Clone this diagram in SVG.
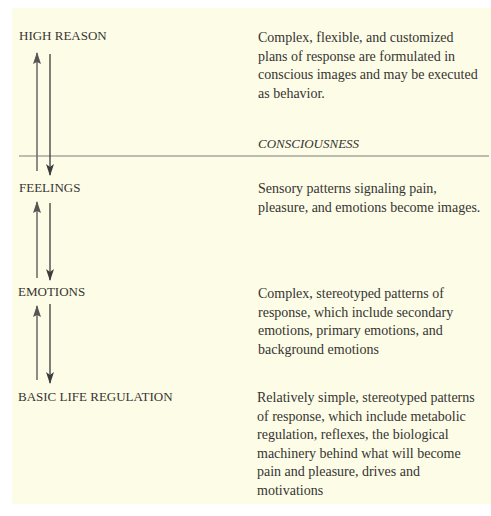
<svg xmlns="http://www.w3.org/2000/svg" width="491" height="516" viewBox="0 0 491 516">
  <style>
    .label { font-family: "Liberation Serif", "Times New Roman", serif; font-size: 13px; fill: #353533; }
    .desc { font-family: "Liberation Serif", "Times New Roman", serif; font-size: 14px; fill: #353533; }
    .italic { font-style: italic; }
    .up { stroke: #707070; stroke-width: 1.6; fill: none; }
    .down { stroke: #3c3c3a; stroke-width: 1.3; fill: none; }
    .rule { stroke: #a9a9a2; stroke-width: 1.5; }
  </style>
  <defs>
    <marker id="headUp" viewBox="0 0 12 8" refX="11" refY="4" markerWidth="12" markerHeight="8" markerUnits="userSpaceOnUse" orient="auto">
      <path d="M0,0 L12,4 L0,8 L2,4 Z" fill="#555553"/>
    </marker>
    <marker id="headDown" viewBox="0 0 12 8" refX="11" refY="4" markerWidth="12" markerHeight="8" markerUnits="userSpaceOnUse" orient="auto">
      <path d="M0,0 L12,4 L0,8 L3,4 Z" fill="#3c3c3a"/>
    </marker>
  </defs>

  <!-- page -->
  <rect x="0" y="0" width="491" height="516" fill="#ffffff"/>
  <rect x="12" y="8" width="479" height="496" fill="#fdfce6"/>

  <!-- consciousness threshold -->
  <line class="rule" x1="19" y1="156" x2="489" y2="156"/>
  <text class="label italic" x="258" y="148">CONSCIOUSNESS</text>

  <g id="high-reason">
    <text class="label" x="19" y="40">HIGH REASON</text>
    <text class="desc" x="258" y="42">Complex, flexible, and customized</text>
    <text class="desc" x="258" y="60.5">plans of response are formulated in</text>
    <text class="desc" x="258" y="79">conscious images and may be executed</text>
    <text class="desc" x="258" y="97.5">as behavior.</text>
  </g>

  <g id="feelings">
    <text class="label" x="19" y="192">FEELINGS</text>
    <text class="desc" x="258" y="193">Sensory patterns signaling pain,</text>
    <text class="desc" x="258" y="211.5">pleasure, and emotions become images.</text>
  </g>

  <g id="emotions">
    <text class="label" x="18" y="296">EMOTIONS</text>
    <text class="desc" x="258" y="298">Complex, stereotyped patterns of</text>
    <text class="desc" x="258" y="316.5">response, which include secondary</text>
    <text class="desc" x="258" y="335">emotions, primary emotions, and</text>
    <text class="desc" x="258" y="353.5">background emotions</text>
  </g>

  <g id="basic-life-regulation">
    <text class="label" x="18" y="401">BASIC LIFE REGULATION</text>
    <text class="desc" x="257" y="402">Relatively simple, stereotyped patterns</text>
    <text class="desc" x="257" y="420.5">of response, which include metabolic</text>
    <text class="desc" x="257" y="439">regulation, reflexes, the biological</text>
    <text class="desc" x="257" y="457.5">machinery behind what will become</text>
    <text class="desc" x="257" y="476">pain and pleasure, drives and</text>
    <text class="desc" x="257" y="494.5">motivations</text>
  </g>

  <g id="connectors">
    <!-- high reason <-> feelings -->
    <line class="up" x1="37" y1="171" x2="37" y2="53" marker-end="url(#headUp)"/>
    <line class="down" x1="50" y1="54" x2="50" y2="175" marker-end="url(#headDown)"/>
    <!-- feelings <-> emotions -->
    <line class="up" x1="37" y1="278" x2="37" y2="202" marker-end="url(#headUp)"/>
    <line class="down" x1="50" y1="203" x2="50" y2="280" marker-end="url(#headDown)"/>
    <!-- emotions <-> basic life regulation -->
    <line class="up" x1="37" y1="380" x2="37" y2="306" marker-end="url(#headUp)"/>
    <line class="down" x1="50" y1="304" x2="50" y2="383" marker-end="url(#headDown)"/>
  </g>
</svg>
